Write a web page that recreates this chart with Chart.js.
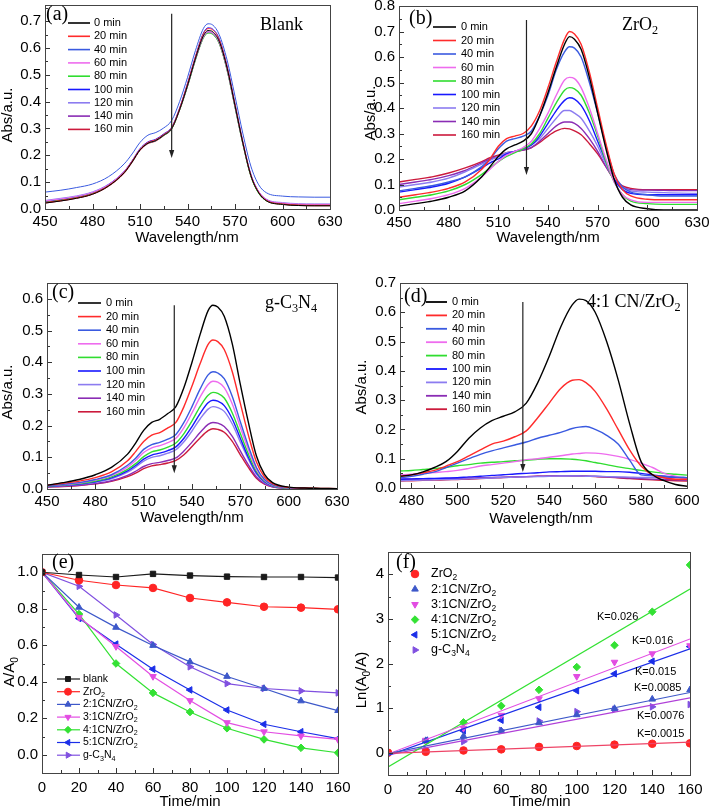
<!DOCTYPE html>
<html><head><meta charset="utf-8">
<script src="https://cdn.jsdelivr.net/npm/chart.js@4.4.0/dist/chart.umd.min.js"></script>
<style>
html,body{margin:0;padding:0;background:#fff;width:709px;height:810px;overflow:hidden;position:relative;}
canvas{position:absolute;}
</style></head><body>
<canvas id="ca"></canvas><canvas id="cb"></canvas><canvas id="cc"></canvas>
<canvas id="cd"></canvas><canvas id="ce"></canvas><canvas id="cf"></canvas>
<script>
// ---------------- DATA ----------------
const specLabels = ['0 min','20 min','40 min','60 min','80 min','100 min','120 min','140 min','160 min'];
const wlABC = [450,460,470,480,490,500,505,510,515,520,525,530,535,540,545,550,553,556,560,565,570,575,580,585,590,600,610,620,630];
// (a) Blank
const a0   = [0.022,0.03,0.04,0.055,0.085,0.135,0.175,0.22,0.245,0.255,0.275,0.30,0.37,0.46,0.56,0.645,0.665,0.66,0.625,0.525,0.385,0.245,0.125,0.06,0.03,0.017,0.013,0.012,0.012];
const a20  = [0.024,0.032,0.042,0.057,0.087,0.137,0.178,0.222,0.248,0.258,0.278,0.303,0.374,0.466,0.566,0.652,0.672,0.667,0.632,0.53,0.39,0.248,0.127,0.062,0.032,0.019,0.015,0.014,0.014];
const a40  = [0.063,0.07,0.08,0.093,0.12,0.168,0.205,0.248,0.275,0.285,0.302,0.33,0.40,0.49,0.59,0.672,0.69,0.685,0.65,0.555,0.42,0.28,0.16,0.09,0.06,0.048,0.045,0.044,0.044];
const a60  = [0.03,0.038,0.047,0.062,0.09,0.14,0.178,0.222,0.246,0.256,0.276,0.301,0.371,0.46,0.558,0.64,0.66,0.655,0.62,0.52,0.382,0.245,0.128,0.065,0.035,0.022,0.018,0.017,0.017];
const a80  = [0.025,0.033,0.043,0.058,0.087,0.136,0.176,0.22,0.245,0.255,0.274,0.298,0.368,0.456,0.554,0.636,0.655,0.65,0.616,0.516,0.378,0.24,0.122,0.058,0.03,0.018,0.014,0.013,0.013];
const a100 = [0.027,0.035,0.045,0.06,0.09,0.14,0.18,0.225,0.25,0.26,0.28,0.305,0.376,0.468,0.568,0.655,0.675,0.67,0.635,0.533,0.392,0.25,0.13,0.064,0.034,0.02,0.016,0.015,0.015];
const a120 = [0.032,0.04,0.049,0.064,0.092,0.14,0.178,0.221,0.245,0.255,0.275,0.3,0.37,0.458,0.556,0.638,0.658,0.653,0.618,0.518,0.38,0.243,0.127,0.065,0.036,0.024,0.02,0.019,0.019];
const a140 = [0.026,0.034,0.044,0.059,0.088,0.137,0.176,0.22,0.245,0.255,0.275,0.3,0.37,0.459,0.558,0.64,0.66,0.655,0.62,0.52,0.382,0.243,0.124,0.06,0.031,0.018,0.014,0.013,0.013];
const a160 = [0.022,0.03,0.04,0.055,0.084,0.133,0.173,0.218,0.243,0.253,0.273,0.298,0.368,0.457,0.556,0.638,0.657,0.652,0.617,0.518,0.38,0.242,0.123,0.059,0.03,0.017,0.013,0.012,0.012];
// (b) ZrO2
const b0   = [0.015,0.025,0.035,0.05,0.075,0.13,0.17,0.21,0.24,0.255,0.27,0.30,0.37,0.46,0.56,0.65,0.68,0.67,0.63,0.52,0.38,0.24,0.12,0.05,0.02,0.005,0.0,0.0,0.0];
const b20  = [0.05,0.06,0.07,0.085,0.11,0.16,0.20,0.25,0.28,0.29,0.30,0.33,0.39,0.48,0.58,0.67,0.70,0.69,0.65,0.54,0.40,0.26,0.14,0.08,0.055,0.042,0.04,0.04,0.04];
const b40  = [0.075,0.085,0.095,0.11,0.13,0.17,0.20,0.24,0.27,0.28,0.29,0.31,0.37,0.45,0.55,0.62,0.64,0.635,0.60,0.50,0.38,0.25,0.14,0.09,0.07,0.06,0.055,0.055,0.055];
const b60  = [0.025,0.035,0.045,0.06,0.085,0.13,0.16,0.19,0.215,0.23,0.245,0.27,0.32,0.38,0.45,0.51,0.52,0.515,0.48,0.40,0.30,0.20,0.11,0.06,0.04,0.03,0.03,0.03,0.03];
const b80  = [0.04,0.05,0.06,0.075,0.10,0.14,0.165,0.19,0.21,0.225,0.24,0.26,0.30,0.36,0.42,0.47,0.48,0.475,0.45,0.38,0.29,0.19,0.11,0.06,0.035,0.025,0.022,0.022,0.022];
const b100 = [0.07,0.08,0.09,0.105,0.13,0.165,0.185,0.20,0.22,0.23,0.24,0.255,0.29,0.34,0.39,0.43,0.44,0.435,0.41,0.35,0.27,0.19,0.12,0.08,0.065,0.06,0.06,0.06,0.06];
const b120 = [0.09,0.10,0.11,0.125,0.15,0.18,0.195,0.21,0.225,0.23,0.24,0.255,0.28,0.32,0.36,0.39,0.39,0.38,0.36,0.31,0.25,0.18,0.12,0.09,0.075,0.07,0.068,0.066,0.065];
const b140 = [0.10,0.11,0.12,0.135,0.155,0.185,0.20,0.21,0.22,0.23,0.235,0.245,0.27,0.30,0.33,0.345,0.345,0.34,0.32,0.28,0.23,0.17,0.12,0.09,0.08,0.078,0.077,0.076,0.076];
const b160 = [0.11,0.12,0.13,0.145,0.165,0.19,0.205,0.215,0.225,0.23,0.235,0.245,0.265,0.29,0.31,0.32,0.318,0.31,0.295,0.26,0.22,0.17,0.12,0.095,0.085,0.08,0.08,0.08,0.08];
// (c) g-C3N4
const c0   = [0.012,0.02,0.03,0.045,0.068,0.11,0.145,0.185,0.21,0.22,0.238,0.26,0.32,0.40,0.487,0.563,0.58,0.574,0.545,0.458,0.33,0.21,0.104,0.046,0.02,0.006,0.003,0.002,0.001];
const c20  = [0.012,0.018,0.025,0.036,0.054,0.089,0.118,0.15,0.17,0.178,0.193,0.21,0.26,0.325,0.395,0.456,0.47,0.465,0.44,0.37,0.27,0.17,0.085,0.038,0.017,0.005,0.003,0.002,0.001];
const c40  = [0.01,0.015,0.02,0.03,0.045,0.075,0.097,0.125,0.14,0.147,0.157,0.172,0.21,0.26,0.315,0.36,0.37,0.366,0.348,0.292,0.212,0.135,0.068,0.03,0.013,0.004,0.002,0.001,0.001];
const c60  = [0.01,0.014,0.019,0.028,0.042,0.069,0.09,0.115,0.13,0.137,0.146,0.16,0.194,0.24,0.29,0.33,0.34,0.337,0.32,0.268,0.195,0.124,0.062,0.028,0.012,0.004,0.002,0.001,0.001];
const c80  = [0.009,0.013,0.017,0.025,0.038,0.062,0.08,0.102,0.117,0.123,0.132,0.145,0.175,0.215,0.26,0.296,0.305,0.302,0.287,0.24,0.175,0.11,0.056,0.025,0.011,0.003,0.002,0.001,0.001];
const c100 = [0.008,0.012,0.016,0.023,0.035,0.057,0.074,0.094,0.107,0.113,0.121,0.133,0.16,0.197,0.238,0.272,0.28,0.277,0.263,0.221,0.16,0.1,0.051,0.023,0.01,0.003,0.002,0.001,0.001];
const c120 = [0.008,0.011,0.015,0.021,0.032,0.053,0.069,0.088,0.1,0.105,0.113,0.124,0.149,0.183,0.221,0.252,0.26,0.257,0.245,0.205,0.148,0.094,0.047,0.021,0.009,0.003,0.002,0.001,0.001];
const c140 = [0.006,0.009,0.012,0.017,0.026,0.043,0.056,0.071,0.08,0.084,0.09,0.098,0.12,0.148,0.178,0.204,0.21,0.208,0.197,0.166,0.12,0.076,0.038,0.017,0.007,0.002,0.001,0.001,0.001];
const c160 = [0.006,0.008,0.011,0.016,0.024,0.039,0.05,0.064,0.073,0.077,0.082,0.09,0.108,0.134,0.161,0.184,0.19,0.188,0.179,0.15,0.108,0.068,0.034,0.015,0.007,0.002,0.001,0.001,0.001];
// (d) 4:1 CN/ZrO2
const wlD = [475,480,485,490,495,500,505,510,515,520,525,530,535,540,545,550,553,556,560,565,570,575,580,585,590,595,600];
const d0   = [0.04,0.045,0.055,0.07,0.09,0.125,0.17,0.205,0.23,0.245,0.26,0.29,0.36,0.45,0.55,0.625,0.645,0.64,0.6,0.5,0.37,0.22,0.09,0.045,0.025,0.012,0.006];
const d20  = [0.04,0.045,0.052,0.06,0.075,0.09,0.11,0.13,0.15,0.16,0.175,0.195,0.24,0.29,0.34,0.368,0.37,0.36,0.33,0.27,0.2,0.13,0.075,0.045,0.035,0.03,0.03];
const d40  = [0.035,0.04,0.047,0.055,0.07,0.085,0.1,0.115,0.127,0.137,0.147,0.157,0.17,0.18,0.19,0.203,0.208,0.21,0.2,0.18,0.15,0.095,0.045,0.042,0.04,0.037,0.035];
const d60  = [0.045,0.047,0.05,0.053,0.056,0.06,0.067,0.075,0.08,0.085,0.09,0.097,0.1,0.105,0.11,0.116,0.118,0.12,0.119,0.115,0.108,0.098,0.085,0.07,0.05,0.04,0.03];
const d80  = [0.058,0.06,0.063,0.066,0.07,0.076,0.08,0.085,0.088,0.09,0.093,0.095,0.098,0.1,0.1,0.098,0.096,0.093,0.087,0.08,0.072,0.066,0.06,0.055,0.05,0.047,0.044];
const d100 = [0.03,0.031,0.032,0.033,0.034,0.035,0.038,0.04,0.043,0.045,0.048,0.05,0.052,0.055,0.056,0.057,0.057,0.057,0.057,0.056,0.056,0.054,0.05,0.045,0.04,0.037,0.035];
const d120 = [0.025,0.026,0.027,0.028,0.029,0.03,0.031,0.033,0.034,0.036,0.037,0.038,0.039,0.04,0.041,0.041,0.041,0.04,0.04,0.039,0.038,0.037,0.036,0.036,0.035,0.035,0.035];
const d140 = [0.03,0.03,0.031,0.031,0.032,0.033,0.034,0.035,0.036,0.037,0.038,0.039,0.04,0.041,0.042,0.042,0.042,0.041,0.04,0.038,0.036,0.034,0.032,0.03,0.029,0.028,0.027];
const d160 = [0.024,0.025,0.026,0.027,0.028,0.029,0.03,0.032,0.034,0.036,0.037,0.039,0.04,0.041,0.042,0.041,0.041,0.04,0.039,0.037,0.035,0.032,0.03,0.028,0.026,0.025,0.024];
// (e) A/A0 vs time
const timeMin = [0,20,40,60,80,100,120,140,160];
const sampleNames = ['blank','ZrO_2','2:1CN/ZrO_2','3:1CN/ZrO_2','4:1CN/ZrO_2','5:1CN/ZrO_2','g-C_3N_4'];
const eBlank = [1.0,0.985,0.974,0.991,0.982,0.976,0.974,0.974,0.971];
const eZrO2  = [1.0,0.956,0.93,0.914,0.859,0.835,0.811,0.806,0.797];
const e21    = [1.0,0.808,0.698,0.599,0.509,0.429,0.363,0.295,0.242];
const e31    = [1.0,0.753,0.593,0.429,0.297,0.176,0.126,0.103,0.084];
const e41    = [1.0,0.771,0.5,0.339,0.234,0.145,0.084,0.038,0.011];
const e51    = [1.0,0.747,0.606,0.469,0.355,0.245,0.167,0.126,0.088];
const eCN    = [1.0,0.923,0.766,0.604,0.482,0.39,0.363,0.35,0.339];
// (f) ln(A0/A) vs time
const fZrO2 = [0,0.02,0.05,0.075,0.13,0.15,0.18,0.2,0.21];
const f21   = [0,0.27,0.37,0.49,0.67,0.85,0.99,1.2,1.41];
const f31   = [0,0.28,0.55,0.84,1.21,1.71,2.03,2.22,2.4];
const f41   = [0,0.26,0.68,1.05,1.41,1.92,2.41,3.16,4.21];
const f51   = [0,0.28,0.49,0.73,1.02,1.39,1.77,2.05,2.38];
const fCN   = [0,0.075,0.25,0.5,0.71,0.92,0.97,1.03,1.08];
// linear fits: value at t=0 and t=160
const fitT = [0,160];
const fitZrO2 = [-0.015,0.235];
const fit21   = [-0.02,1.35];
const fit31   = [-0.03,2.55];
const fit41   = [-0.32,3.67];
const fit51   = [-0.06,2.33];
const fitCN   = [-0.05,1.23];
const kLabels = ['K=0.026','K=0.016','K=0.015','K=0.0085','K=0.0076','K=0.0015'];
// tick values
const ticksXabc = [450,480,510,540,570,600,630];
const ticksXd = [480,500,520,540,560,580,600];
const ticksXef = [0,20,40,60,80,100,120,140,160];
const ticksYa = [0,0.1,0.2,0.3,0.4,0.5,0.6,0.7];
const ticksYb = [0,0.1,0.2,0.3,0.4,0.5,0.6,0.7,0.8];
const ticksYc = [0,0.1,0.2,0.3,0.4,0.5,0.6];
const ticksYd = [0,0.1,0.2,0.3,0.4,0.5,0.6,0.7];
const ticksYe = [0,0.2,0.4,0.6,0.8,1.0];
const ticksYf = [0,1,2,3,4];

// ---------------- STYLE ----------------
const SANS = '"Liberation Sans", Arial, sans-serif';
const SERIF = '"Liberation Serif", "Times New Roman", serif';
const specColors = ['#000000','#ff2b2b','#3a5ae0','#ee6cee','#30dd30','#1818ff','#8c7cf0','#8a2cb4','#cc1a3c'];
const sampColors = ['#1a1a1a','#ff2424','#3d58c9','#e24de2','#33e133','#1a2ee8','#8050e0'];
const sampStyles = [['rect',0],['circle',0],['triangle',0],['triangle',180],['rectRot',0],['triangle',-90],['triangle',90]];

function richText(ctx, str, x, y, size, family, align) {
  const segs = []; let i = 0;
  while (i < str.length) {
    if (str[i] === '_') { segs.push({t: str[i+1], sub: true}); i += 2; }
    else { let j = i; while (j < str.length && str[j] !== '_') j++; segs.push({t: str.slice(i, j), sub: false}); i = j; }
  }
  const subSize = size * 0.68;
  let total = 0;
  for (const s of segs) { ctx.font = (s.sub ? subSize : size) + 'px ' + family; s.w = ctx.measureText(s.t).width; total += s.w; }
  let cx = align === 'center' ? x - total / 2 : (align === 'right' ? x - total : x);
  ctx.textBaseline = 'middle'; ctx.textAlign = 'left'; ctx.fillStyle = '#000';
  for (const s of segs) {
    ctx.font = (s.sub ? subSize : size) + 'px ' + family;
    ctx.fillText(s.t, cx, s.sub ? y + size * 0.32 : y);
    cx += s.w;
  }
}

const DECO = {};
const decoPlugin = {
  id: 'deco',
  afterDraw(chart) {
    const c = DECO[chart.canvas.id]; if (!c) return;
    const ctx = chart.ctx, ca = chart.chartArea, xs = chart.scales.x, ys = chart.scales.y;
    const ox = c.ox, oy = c.oy;
    ctx.save();
    // ticks
    ctx.strokeStyle = '#333'; ctx.lineWidth = 1;
    const mids = (arr, lo, hi) => { const out = []; const st = arr[1] - arr[0];
      for (let k = -1; k < arr.length; k++) { const v = (k < 0 ? arr[0] - st / 2 : arr[k] + st / 2); if (v >= lo - 1e-9 && v <= hi + 1e-9) out.push(v); } return out; };
    const xt = c.xTicks, yt = c.yTicks;
    ctx.beginPath();
    for (const v of xt) { const p = Math.round(xs.getPixelForValue(v)) + 0.5; ctx.moveTo(p, ca.bottom); ctx.lineTo(p, ca.bottom - 5); }
    for (const v of mids(xt, xs.min, xs.max)) { const p = Math.round(xs.getPixelForValue(v)) + 0.5; ctx.moveTo(p, ca.bottom); ctx.lineTo(p, ca.bottom - 3); }
    for (const v of yt) { const p = Math.round(ys.getPixelForValue(v)) + 0.5; ctx.moveTo(ca.left, p); ctx.lineTo(ca.left + 5, p); }
    for (const v of mids(yt, ys.min, ys.max)) { const p = Math.round(ys.getPixelForValue(v)) + 0.5; ctx.moveTo(ca.left, p); ctx.lineTo(ca.left + 3, p); }
    ctx.stroke();
    // frame
    ctx.strokeStyle = '#444';
    ctx.strokeRect(Math.round(ca.left) + 0.5, Math.round(ca.top) + 0.5, Math.round(ca.right - ca.left), Math.round(ca.bottom - ca.top));
    // arrow
    if (c.arrow) {
      const ax = xs.getPixelForValue(c.arrow.x), y1 = ys.getPixelForValue(c.arrow.y1), y2 = ys.getPixelForValue(c.arrow.y2);
      ctx.strokeStyle = '#222'; ctx.fillStyle = '#222'; ctx.lineWidth = 1.2;
      ctx.beginPath(); ctx.moveTo(ax, y1); ctx.lineTo(ax, y2 - 6); ctx.stroke();
      ctx.beginPath(); ctx.moveTo(ax, y2); ctx.lineTo(ax - 2.6, y2 - 8); ctx.lineTo(ax + 2.6, y2 - 8); ctx.closePath(); ctx.fill();
    }
    // legend
    if (c.legend) {
      const L = c.legend;
      L.items.forEach((it, k) => {
        const y = L.y0 + k * L.dy - oy;
        if (it.line) {
          ctx.strokeStyle = it.color; ctx.lineWidth = it.width || 1.5; ctx.setLineDash(it.dash || []);
          ctx.beginPath(); ctx.moveTo(L.x1 - ox, y); ctx.lineTo(L.x2 - ox, y); ctx.stroke(); ctx.setLineDash([]);
        }
        if (it.style) {
          ctx.fillStyle = it.color; ctx.strokeStyle = it.color; ctx.lineWidth = 1;
          Chart.helpers.drawPoint(ctx, {pointStyle: it.style, rotation: it.rot, radius: L.r, borderWidth: 1}, L.mx - ox, y);
        }
        richText(ctx, it.label, L.tx - ox, y, L.size, SANS, 'left');
      });
    }
    // texts
    for (const t of c.texts) {
      if (t.rot) {
        ctx.save(); ctx.translate(t.x - ox, t.y - oy); ctx.rotate(-Math.PI / 2);
        richText(ctx, t.t, 0, 0, t.size, t.family || SANS, 'center'); ctx.restore();
      } else richText(ctx, t.t, t.x - ox, t.y - oy, t.size, t.family || SANS, t.align || 'left');
    }
    ctx.restore();
  }
};

function makePanel(p) {
  const cv = document.getElementById(p.id);
  const yw = 45, top = 15, right = 25;
  const bx = p.plot.l - yw, by = p.plot.t - top;
  const bw = yw + (p.plot.r - p.plot.l) + right;
  const bh = top + (p.plot.b - p.plot.t) + p.xh;
  cv.style.left = bx + 'px'; cv.style.top = by + 'px'; cv.width = bw; cv.height = bh;
  DECO[p.id] = Object.assign({ox: bx, oy: by}, p.deco, {xTicks: p.xTicks, yTicks: p.yTicks});
  new Chart(cv, {
    type: 'line',
    data: {datasets: p.datasets},
    options: {
      responsive: false, animation: false, devicePixelRatio: 1,
      layout: {padding: {left: 0, top: top, right: right, bottom: 0}},
      plugins: {legend: {display: false}, tooltip: {enabled: false}},
      scales: {
        x: {type: 'linear', min: p.xMin, max: p.xMax,
            afterFit: s => { s.height = p.xh; },
            afterBuildTicks: s => { s.ticks = p.xTicks.map(v => ({value: v})); },
            grid: {display: false, drawTicks: false}, border: {display: false},
            ticks: {padding: p.xPad, color: '#000', font: {size: 15, family: SANS}, maxRotation: 0, autoSkip: false,
                    callback: v => String(v)}},
        y: {type: 'linear', min: p.yMin, max: p.yMax,
            afterFit: s => { s.width = yw; },
            afterBuildTicks: s => { s.ticks = p.yTicks.map(v => ({value: v})); },
            grid: {display: false, drawTicks: false}, border: {display: false},
            ticks: {padding: 4, color: '#000', font: {size: 15, family: SANS}, autoSkip: false,
                    callback: v => p.yDec ? Number(v).toFixed(p.yDec) : String(v)}}
      }
    },
    plugins: [decoPlugin]
  });
}

const pts = (xs, ys) => xs.map((x, i) => ({x: x, y: ys[i]}));
function specSets(xs, series, width) {
  return series.map((ys, k) => ({
    data: pts(xs, ys), borderColor: specColors[k], borderWidth: width, pointRadius: 0,
    tension: 0.4, cubicInterpolationMode: 'monotone', fill: false
  }));
}
function specLegend(x1, x2, tx, y0, dy, width) {
  return {x1: x1, x2: x2, tx: tx, y0: y0, dy: dy, size: 11,
          items: specLabels.map((l, k) => ({label: l, color: specColors[k], line: true, width: width}))};
}

// (a)
makePanel({id: 'ca', plot: {l: 45, t: 5, r: 330, b: 209}, xh: 41, xPad: 4,
  xMin: 450, xMax: 630, yMin: 0, yMax: 0.76, xTicks: ticksXabc, yTicks: ticksYa, yDec: 1,
  datasets: specSets(wlABC, [a0, a20, a40, a60, a80, a100, a120, a140, a160], 1),
  deco: {arrow: {x: 530, y1: 0.727, y2: 0.19}, legend: specLegend(68, 90, 94, 23, 13.3, 1.6),
    texts: [{t: '(a)', x: 46, y: 15, size: 20, family: SERIF}, {t: 'Blank', x: 260, y: 25, size: 18, family: SERIF},
            {t: 'Wavelength/nm', x: 187, y: 238, size: 15, align: 'center'}, {t: 'Abs/a.u.', x: 8, y: 115, size: 15, rot: true}]}});
// (b)
makePanel({id: 'cb', plot: {l: 399, t: 6, r: 697, b: 210}, xh: 40, xPad: 4,
  xMin: 450, xMax: 630, yMin: 0, yMax: 0.8, xTicks: ticksXabc, yTicks: ticksYb, yDec: 1,
  datasets: specSets(wlABC, [b0, b20, b40, b60, b80, b100, b120, b140, b160], 1.4),
  deco: {arrow: {x: 527, y1: 0.745, y2: 0.137}, legend: specLegend(433, 456, 461, 27, 13.5, 1.6),
    texts: [{t: '(b)', x: 409, y: 19, size: 20, family: SERIF}, {t: 'ZrO_2', x: 622, y: 25, size: 18, family: SERIF},
            {t: 'Wavelength/nm', x: 548, y: 238, size: 15, align: 'center'}, {t: 'Abs/a.u.', x: 371, y: 113, size: 15, rot: true}]}});
// (c)
makePanel({id: 'cc', plot: {l: 47, t: 283, r: 337, b: 489}, xh: 40, xPad: 4,
  xMin: 450, xMax: 630, yMin: 0, yMax: 0.65, xTicks: ticksXabc, yTicks: ticksYc, yDec: 1,
  datasets: specSets(wlABC, [c0, c20, c40, c60, c80, c100, c120, c140, c160], 1.4),
  deco: {arrow: {x: 529, y1: 0.58, y2: 0.05}, legend: specLegend(78, 101, 106, 303, 13.6, 1.6),
    texts: [{t: '(c)', x: 52, y: 293, size: 20, family: SERIF}, {t: 'g-C_3N_4', x: 265, y: 303, size: 18, family: SERIF},
            {t: 'Wavelength/nm', x: 192, y: 518, size: 15, align: 'center'}, {t: 'Abs/a.u.', x: 8, y: 392, size: 15, rot: true}]}});
// (d)
makePanel({id: 'cd', plot: {l: 400, t: 283, r: 687, b: 488}, xh: 40, xPad: 4,
  xMin: 475, xMax: 600, yMin: 0, yMax: 0.7, xTicks: ticksXd, yTicks: ticksYd, yDec: 1,
  datasets: specSets(wlD, [d0, d20, d40, d60, d80, d100, d120, d140, d160], 1.4),
  deco: {arrow: {x: 528.5, y1: 0.635, y2: 0.055}, legend: specLegend(426, 447, 452, 302, 13.4, 1.8),
    texts: [{t: '(d)', x: 404, y: 297, size: 20, family: SERIF}, {t: '4:1 CN/ZrO_2', x: 587, y: 302, size: 18, family: SERIF},
            {t: 'Wavelength/nm', x: 541, y: 519, size: 15, align: 'center'}, {t: 'Abs/a.u.', x: 362, y: 387, size: 15, rot: true}]}});
// (e)
const eSeries = [eBlank, eZrO2, e21, e31, e41, e51, eCN];
makePanel({id: 'ce', plot: {l: 42, t: 554, r: 338, b: 773}, xh: 37, xPad: 6,
  xMin: 0, xMax: 160, yMin: -0.1, yMax: 1.1, xTicks: ticksXef, yTicks: ticksYe, yDec: 1,
  datasets: eSeries.map((ys, k) => ({data: pts(timeMin, ys), borderColor: sampColors[k], backgroundColor: sampColors[k],
    borderWidth: 1.2, pointRadius: 3.8, pointStyle: sampStyles[k][0], rotation: sampStyles[k][1],
    pointBackgroundColor: sampColors[k], pointBorderColor: sampColors[k], pointBorderWidth: 1, tension: 0, fill: false})),
  deco: {legend: {x1: 57, x2: 80, mx: 68, tx: 83, y0: 679, dy: 12.7, size: 10.5, r: 3.5,
      items: sampleNames.map((l, k) => ({label: l, color: sampColors[k], line: true, width: 1.2, style: sampStyles[k][0], rot: sampStyles[k][1]}))},
    texts: [{t: '(e)', x: 52, y: 563, size: 20, family: SERIF},
            {t: 'Time/min', x: 190, y: 802, size: 15, align: 'center'}, {t: 'A/A_0', x: 10, y: 672, size: 15, rot: true}]}});
// (f)
const fSeries = [fZrO2, f21, f31, f41, f51, fCN];
const fitSeries = [fitZrO2, fit21, fit31, fit41, fit51, fitCN];
const fitColors = ['#ee4466', '#3d58c9', '#e24de2', '#33e133', '#1a2ee8', '#b040d8'];
const fDatasets = [];
fitSeries.forEach((ys, k) => fDatasets.push({data: pts(fitT, ys), borderColor: fitColors[k], borderWidth: 1.2, pointRadius: 0, tension: 0, fill: false}));
fSeries.forEach((ys, k) => fDatasets.push({data: pts(timeMin, ys), showLine: false, pointRadius: 3.8,
  pointStyle: sampStyles[k + 1][0], rotation: sampStyles[k + 1][1],
  pointBackgroundColor: sampColors[k + 1], pointBorderColor: sampColors[k + 1], pointBorderWidth: 1}));
makePanel({id: 'cf', plot: {l: 388, t: 552, r: 690, b: 775}, xh: 35, xPad: 6,
  xMin: 0, xMax: 160, yMin: -0.5, yMax: 4.5, xTicks: ticksXef, yTicks: ticksYf, yDec: 0,
  datasets: fDatasets,
  deco: {legend: {mx: 415, tx: 431, y0: 574, dy: 15.2, size: 12.5, r: 3.8,
      items: sampleNames.slice(1).map((l, k) => ({label: l, color: sampColors[k + 1], line: false, style: sampStyles[k + 1][0], rot: sampStyles[k + 1][1]}))},
    texts: [{t: '(f)', x: 396, y: 563, size: 20, family: SERIF},
            {t: kLabels[0], x: 597, y: 617, size: 11}, {t: kLabels[1], x: 632, y: 641, size: 11},
            {t: kLabels[2], x: 635, y: 672, size: 11}, {t: kLabels[3], x: 634, y: 688, size: 11},
            {t: kLabels[4], x: 637, y: 716, size: 11}, {t: kLabels[5], x: 637, y: 734, size: 11},
            {t: 'Time/min', x: 540, y: 802, size: 15, align: 'center'}, {t: 'Ln(A_0/A)', x: 362, y: 680, size: 15, rot: true}]}});
</script>
</body></html>
